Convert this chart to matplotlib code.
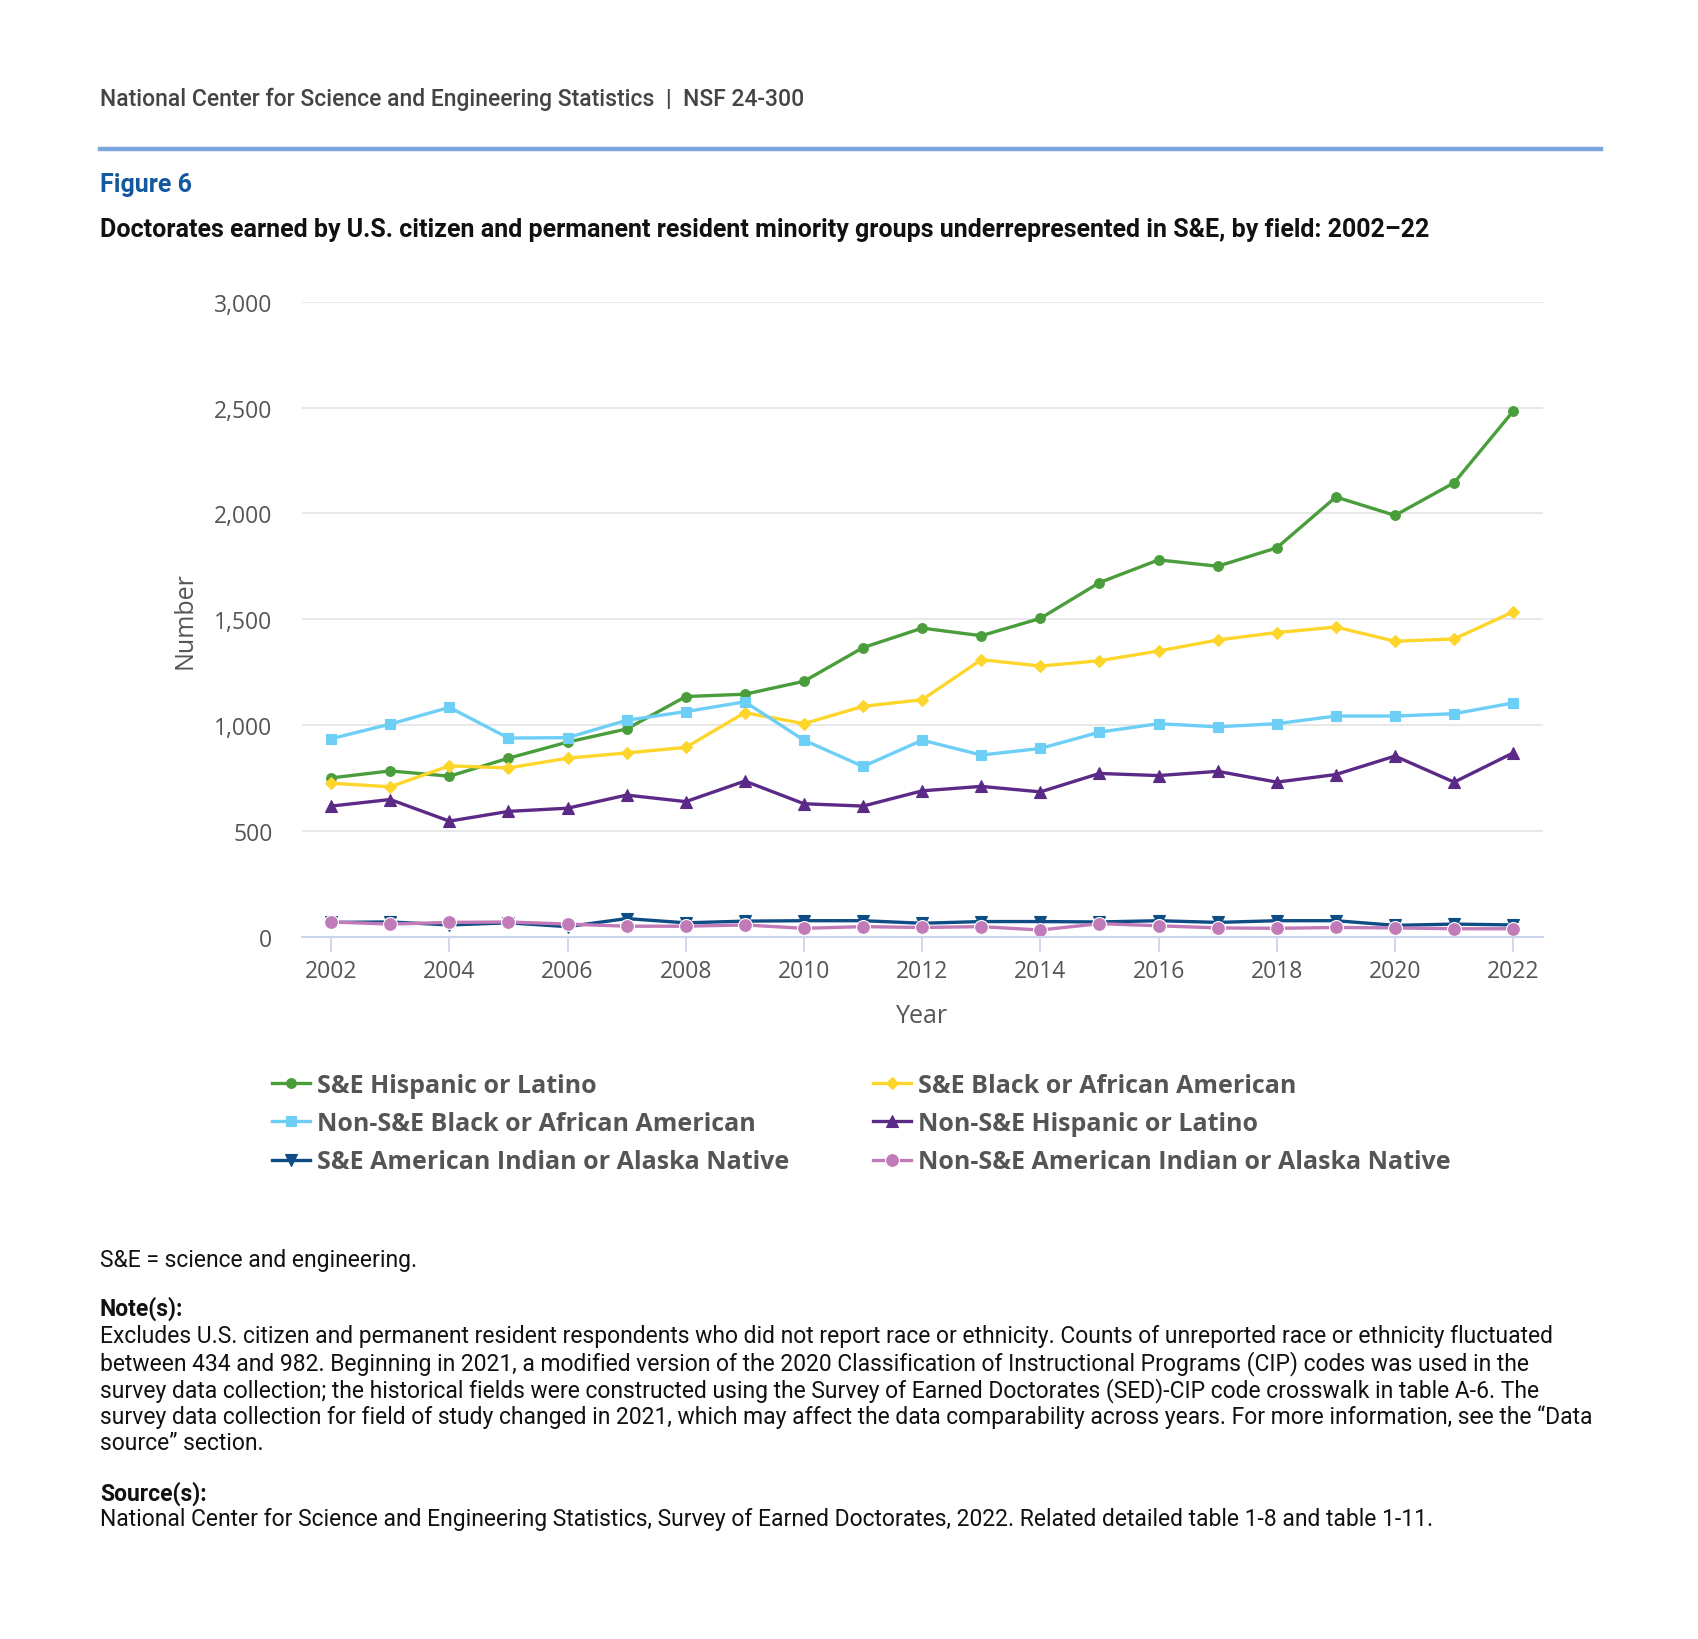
import matplotlib
matplotlib.use("Agg")
import matplotlib.pyplot as plt
from matplotlib.lines import Line2D

years = list(range(2002, 2023))
se_hispanic = [752, 785, 760, 845, 921, 983, 1136, 1147, 1208, 1367, 1459, 1423, 1505, 1674, 1781, 1751, 1838, 2078, 1991, 2145, 2483]
se_black = [727, 710, 809, 799, 845, 870, 896, 1060, 1008, 1090, 1121, 1310, 1280, 1305, 1351, 1403, 1438, 1464, 1397, 1408, 1536]
nonse_black = [937, 1006, 1085, 940, 942, 1024, 1065, 1111, 930, 806, 930, 860, 891, 968, 1008, 993, 1008, 1044, 1044, 1055, 1106]
nonse_hispanic = [619, 650, 548, 594, 609, 671, 640, 737, 630, 619, 691, 712, 686, 773, 763, 783, 732, 768, 855, 732, 870]
se_aian = [70, 72, 58, 68, 50, 88, 68, 76, 78, 78, 66, 74, 74, 72, 78, 70, 78, 78, 56, 62, 58]
nonse_aian = [72, 62, 70, 72, 62, 52, 52, 58, 42, 50, 46, 50, 34, 64, 54, 44, 42, 46, 44, 40, 40]

labels = ["S&E Hispanic or Latino", "S&E Black or African American",
          "Non-S&E Black or African American", "Non-S&E Hispanic or Latino",
          "S&E American Indian or Alaska Native", "Non-S&E American Indian or Alaska Native"]
series = [se_hispanic, se_black, nonse_black, nonse_hispanic, se_aian, nonse_aian]
colors = ["#4a9d3b", "#fdd52b", "#6dcff6", "#5b2a86", "#0d4c85", "#c17bb8"]
markers = ["o", "D", "s", "^", "v", "o"]
msizes = [7, 6, 7.5, 8.5, 8.5, 10]

yticks = [0, 500, 1000, 1500, 2000, 2500, 3000]
ytick_labels = ["0", "500", "1,000", "1,500", "2,000", "2,500", "3,000"]
xticks = list(range(2002, 2023, 2))

W, H = 1566.0, 1512.0
def fx(x): return x / W
def fy(y): return 1 - y / H

fig = plt.figure(figsize=(16.99, 16.40), dpi=100)
fig.patch.set_facecolor("white")

ax = fig.add_axes([fx(278), fy(865), fx(1422) - fx(278), fy(279) - fy(865)])
handles = []
for vals, lab, c, m, ms in zip(series, labels, colors, markers, msizes):
    mec = "white" if lab.startswith("Non-S&E American") else c
    h, = ax.plot(years, vals, color=c, lw=2.4, marker=m, markersize=ms,
                 markerfacecolor=c, markeredgecolor=mec, markeredgewidth=0.8, label=lab,
                 solid_joinstyle="round")
    handles.append(h)

ax.set_xlim(2001.5, 2022.5)
ax.set_ylim(0, 3000)
ax.set_yticks(yticks)
ax.set_yticklabels(ytick_labels)
ax.set_xticks(xticks)
ax.set_xticklabels([str(x) for x in xticks])
for s in ["top", "right", "left"]:
    ax.spines[s].set_visible(False)
ax.spines["bottom"].set_color("#ccd6eb")
ax.spines["bottom"].set_linewidth(1.5)
ax.grid(axis="y", color="#e6e6e6", lw=1.3)
ax.set_axisbelow(True)
ax.tick_params(axis="y", length=0, pad=21, labelsize=16.5, labelcolor="#555555")
ax.tick_params(axis="x", length=11, width=1.3, color="#ccd6eb", pad=5, labelsize=16.5, labelcolor="#555555")
for t in ax.get_xticklabels() + ax.get_yticklabels():
    t.set_fontfamily("Open Sans")
ax.set_xlabel("Year", fontfamily="Open Sans", fontsize=18, color="#555555", labelpad=14)
ax.set_ylabel("Number", fontfamily="Open Sans", fontsize=18, color="#555555", labelpad=12)

# Header
fig.text(fx(92), fy(92), "National Center for Science and Engineering Statistics  |  NSF 24-300",
         fontfamily="Roboto", fontsize=16.5, fontweight="medium", color="#444444", va="center", ha="left")
fig.add_artist(Line2D([fx(92), fx(1476)], [fy(138), fy(138)], color="#7ba7dc", lw=3.2))
fig.text(fx(92), fy(171), "Figure 6", fontfamily="Roboto", fontsize=18, fontweight="bold",
         color="#14599f", va="center", ha="left")
fig.text(fx(92), fy(212), "Doctorates earned by U.S. citizen and permanent resident minority groups underrepresented in S&E, by field: 2002\u201322",
         fontfamily="Roboto", fontsize=18.0, fontweight="bold", color="#111111", va="center", ha="left")

# Legends (two columns)
order1 = [0, 2, 4]
order2 = [1, 3, 5]
leg_kw = dict(frameon=False, loc="upper left", handlelength=1.5, handletextpad=0.3,
              labelspacing=0.53, borderaxespad=0, borderpad=0,
              prop={"family": "Open Sans", "weight": "bold", "size": 18}, labelcolor="#555555")
leg1 = fig.legend([handles[i] for i in order1], [labels[i] for i in order1],
                  bbox_to_anchor=(fx(251), fy(990)), **leg_kw)
leg2 = fig.legend([handles[i] for i in order2], [labels[i] for i in order2],
                  bbox_to_anchor=(fx(805), fy(990)), **leg_kw)

# Footnotes
fs = 16.5
fig.text(fx(92), fy(1162), "S&E = science and engineering.", fontfamily="Roboto", fontsize=fs,
         color="#111111", va="center")
fig.text(fx(92), fy(1207), "Note(s):", fontfamily="Roboto", fontsize=fs, fontweight="bold",
         color="#111111", va="center")
note_lines = [
    "Excludes U.S. citizen and permanent resident respondents who did not report race or ethnicity. Counts of unreported race or ethnicity fluctuated",
    "between 434 and 982. Beginning in 2021, a modified version of the 2020 Classification of Instructional Programs (CIP) codes was used in the",
    "survey data collection; the historical fields were constructed using the Survey of Earned Doctorates (SED)-CIP code crosswalk in table A-6. The",
    "survey data collection for field of study changed in 2021, which may affect the data comparability across years. For more information, see the \u201cData",
    "source\u201d section.",
]
for i, line in enumerate(note_lines):
    fig.text(fx(92), fy(1232 + i * 24.8), line, fontfamily="Roboto", fontsize=fs,
             color="#111111", va="center")
fig.text(fx(92), fy(1377), "Source(s):", fontfamily="Roboto", fontsize=fs, fontweight="bold",
         color="#111111", va="center")
fig.text(fx(92), fy(1401), "National Center for Science and Engineering Statistics, Survey of Earned Doctorates, 2022. Related detailed table 1-8 and table 1-11.",
         fontfamily="Roboto", fontsize=fs, color="#111111", va="center")

fig.savefig("out.png", dpi=100, facecolor="white")
